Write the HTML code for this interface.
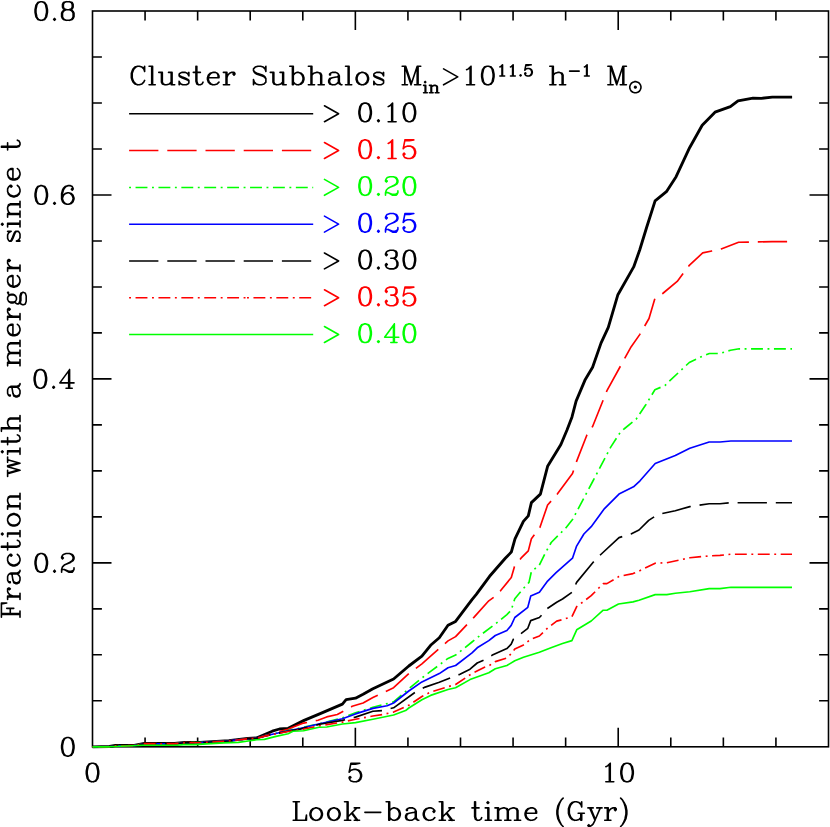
<!DOCTYPE html>
<html><head><meta charset="utf-8"><title>Fraction with a merger since t</title>
<style>html,body{margin:0;padding:0;background:#fff;font-family:"Liberation Sans",sans-serif}svg{display:block}</style>
</head><body>
<svg width="830" height="827" viewBox="0 0 830 827">
<rect width="830" height="827" fill="#fff"/>
<g fill="none" stroke="#000" stroke-width="1.6" stroke-linecap="square">
<rect x="92.5" y="11" width="736" height="735.8"/>
<path d="M145.07 746.8v-9.4M145.07 11v9.4M197.64 746.8v-9.4M197.64 11v9.4M250.21 746.8v-9.4M250.21 11v9.4M302.79 746.8v-9.4M302.79 11v9.4M355.36 746.8v-19M355.36 11v19M407.93 746.8v-9.4M407.93 11v9.4M460.5 746.8v-9.4M460.5 11v9.4M513.07 746.8v-9.4M513.07 11v9.4M565.64 746.8v-9.4M565.64 11v9.4M618.21 746.8v-19M618.21 11v19M670.79 746.8v-9.4M670.79 11v9.4M723.36 746.8v-9.4M723.36 11v9.4M775.93 746.8v-9.4M775.93 11v9.4M92.5 700.81h9.4M828.5 700.81h-9.4M92.5 654.82h9.4M828.5 654.82h-9.4M92.5 608.84h9.4M828.5 608.84h-9.4M92.5 562.85h19M828.5 562.85h-19M92.5 516.86h9.4M828.5 516.86h-9.4M92.5 470.87h9.4M828.5 470.87h-9.4M92.5 424.89h9.4M828.5 424.89h-9.4M92.5 378.9h19M828.5 378.9h-19M92.5 332.91h9.4M828.5 332.91h-9.4M92.5 286.93h9.4M828.5 286.93h-9.4M92.5 240.94h9.4M828.5 240.94h-9.4M92.5 194.95h19M828.5 194.95h-19M92.5 148.96h9.4M828.5 148.96h-9.4M92.5 102.98h9.4M828.5 102.98h-9.4M92.5 56.99h9.4M828.5 56.99h-9.4" stroke-linecap="butt"/>
</g>
<g fill="none" stroke-linejoin="round" stroke-linecap="butt">
<path d="M92.5 746.8L109.6 746.5L115.4 745.5L134.2 745.3L144.3 743.4L174.6 743.4L184.8 742.4L200 742.3L228.9 740.6L247.7 738.4L256.4 738L272.3 731.2L279.5 729L288.2 728.3L304.1 720.4L319.6 713.9L342.4 704.1L346.1 699.7L355.5 698.2L363.1 694.3L372.9 688.8L393.6 679L408.8 666L421.9 656.2L430.6 645.3L439.3 637.7L448 625.3L455.6 621.4L472 599.6L476.3 594.4L489.6 576.3L505.3 558.2L511.3 552.1L515 538.8L523.4 521.4L528.3 515.9L531.4 502.6L540.4 494.1L547.6 466.3L560.9 444.5L567 430L572 416.9L576.1 401.1L585.3 379.4L592.6 367.3L601 343.1L608.3 327.4L617.9 294.7L633.7 266.9L639.7 250L646.6 227.5L655.1 200.9L666.4 191.7L676.1 176.7L689.6 147.7L702.2 125.2L715 112.2L730.4 106.6L738 100.9L753 98.1L761.4 98.3L772.3 97.1L792.1 97.1" stroke="#000000" stroke-width="2.85"/>
<path d="M792 241.6L772 241.6L754 242L738.6 242.3L721.2 248.9L711.8 251L702.7 252.9L689 265.7L677.2 281.4L662.7 293.5L654.9 298.4L649 318.5L639.7 334.6L631.2 346.7L607.1 390.3L592.6 426.5L587 434.8L576.6 461.4L572.5 473.5L557.3 494.1L547.6 505L539.9 527.5L531.4 538.8L528.3 550.9L521 558.2L514.5 566.6L511.3 577.5L500.5 590.8L493.9 597.2L488.8 600.8L473.9 617.4L472 619.2L455.6 636.6L448 640.9L430.6 656.2L421.9 663.8L408.8 673.6L393.6 687.7L372.9 697.5L363.1 703L352.2 706.3L342.4 711.7L337.3 714.5L326.7 716.9L318 720.2L308.4 722.2L303.6 723.1L292 727.5L288.1 729.3L275 732.8L265 735.6L256.4 738.2L247.7 738.6L228.9 740.8L200 742.5L184.8 742.6L174.6 743.6L144.3 743.6L134.2 745.5L115.4 745.7L109.6 746.7L92.5 746.8" stroke="#ff0000" stroke-width="1.65" stroke-dasharray="29.3 8.9" stroke-dashoffset="33.3"/>
<path d="M792 348.8L739.3 348.8L730.5 350.2L720 353.5L709.4 353.5L701.3 356.7L689.3 362.5L669.9 380.6L665.1 385.4L654.9 389.8L645.8 404.8L636.1 419.3L624 429L620.2 432.4L610.7 447.1L592.4 482L572.5 519.5L565.8 527.9L551.2 542.5L545.2 553.3L539.2 565.4L531.4 571.5L529 582.4L522 590L514.8 598.7L511.2 610.2L506.9 614.6L495.3 624L480 635.5L472 642L455.6 655.1L448 658.4L430.6 671.4L421.9 678L408.8 688.8L393.6 701.9L372.9 707.3L355.5 712.8L342.4 717.8L319.6 723.7L300 728L288.1 730.5L275 733.6L265 735.9L256.4 738.3L247.7 738.7L228.9 740.9L200 742.6L184.8 742.7L174.6 743.7L144.3 743.7L134.2 745.6L115.4 745.8L109.6 746.8L92.5 746.8" stroke="#00ff00" stroke-width="1.65" stroke-dasharray="1.9 4.55 11.9 4.55" stroke-dashoffset="0.3"/>
<path d="M92.5 746.8L109.6 746.8L115.4 745.8L134.2 745.6L144.3 743.7L174.6 743.7L184.8 742.7L200 742.6L228.9 740.9L247.7 738.7L256.4 738.3L265 735.9L274.6 733.7L288.1 730.8L300 728.5L319.6 723.7L342.4 718.7L355.5 713.9L372.9 708.4L387.1 705.8L393.6 703L408.8 691L421.9 681.9L439.3 673.6L448 667.7L455.6 665.5L472 652.9L477.2 647.8L488.8 640.6L495.3 635.5L506.9 630.5L511.2 625.4L514.8 617.5L527.8 607.3L530.7 596.1L539.4 592.2L547.6 581.1L556.1 572.7L572.5 558.2L576.6 546.1L583.9 534L591.2 526.7L604.5 508.6L619 494.1L633.5 486.8L640 480.8L655.2 463.5L675.3 455.6L689.8 448.3L709.2 442L720 442L730.9 441L792 441" stroke="#0000ff" stroke-width="1.65"/>
<path d="M792 502.7L730.9 502.7L720 503.7L709.2 503.7L689.8 506.6L675.3 510.7L662 513.6L655.2 516.2L648.7 520.4L639 530L631 534L619 537.6L600.8 554.5L593.6 561.8L576.6 582.4L572.5 592L562.5 599L556.7 602.3L547.3 608.5L540.8 616L539.4 617.5L530.7 620.6L527.8 628.3L521.3 633.4L513.4 639.2L511.2 644.2L506.9 648.6L492.4 655.1L483.7 660.1L477.2 663L470 669.2L460 674.3L450.2 678L439.3 682.3L425.2 687.1L415.4 692.1L393.6 707.8L382.7 710.6L372.9 711.3L355.5 717.1L342.4 720.4L319.6 724.3L300 729.1L288.1 731.2L275 733.9L265 736L256.4 738.4L247.7 738.8L228.9 741L200 742.7L184.8 742.8L174.6 743.8L144.3 743.8L134.2 745.7L115.4 745.9L109.6 746.9L92.5 746.8" stroke="#000000" stroke-width="1.65" stroke-dasharray="29.3 8.9" stroke-dashoffset="13.1"/>
<path d="M792 554.2L730.9 554.2L720 555.4L709.2 555.9L689.8 557.8L666.8 562.7L655.2 563.2L639 571.1L633 573.6L619 576.5L606.9 583.6L603.2 583.6L591.2 595.7L576.7 606.6L571.9 616.7L562.5 619.6L556.7 621.1L548.1 627.6L539.4 636L530.7 639.2L523.5 644.9L514.8 649L511.2 653.6L506.9 658L495.3 661.6L488.8 665.9L484.5 667.3L471.4 673.9L455.6 684.5L448 686.7L430.6 692.1L421.9 696.5L408.8 705.2L393.6 712.1L382.7 714.5L372.9 716L355.5 719.3L342.4 722.1L319.6 725.8L300 729.8L288.1 731.5L275 734L265 736.1L256.4 738.4L247.7 738.8L228.9 741L200 742.7L184.8 742.8L174.6 743.8L144.3 743.8L134.2 745.7L115.4 745.9L109.6 746.9L92.5 746.8" stroke="#ff0000" stroke-width="1.65" stroke-dasharray="11.9 4.55 1.9 4.55" stroke-dashoffset="0.6"/>
<path d="M92.5 746.8L109.6 746.8L142.8 745.2L177.5 745.2L183.3 744.6L195 744.6L206.6 743.9L223.9 742.9L238.4 742.4L249.9 740.7L256.7 739.8L264.4 739.4L275 736.6L288.1 733.7L293 731.3L303.6 730.8L319 727.3L326.7 727L342.4 724L355.5 722.6L372.9 719.3L393.6 715L405.6 710.6L408.8 708L421.9 699.7L430.6 695.4L448 689.5L455.6 687.7L470 679.6L488.8 672.7L495.3 668.8L506.9 665.5L514.8 660.8L523.5 657.2L539.4 652.2L551 647.8L562.5 643.5L571.9 640.6L576.7 629.8L591.2 621L603.2 610.2L606.9 610.2L618.5 604L633 601.9L639 600.2L655.2 594.6L666.8 594.6L675.3 593.2L689.8 591.7L709.2 588.6L720 588.6L730.9 587.3L792 587.3" stroke="#00ff00" stroke-width="1.65"/>
<path d="M129.1 113.8L313.2 113.8" stroke="#000000" stroke-width="1.5"/>
<path d="M129.1 150.6L313.2 150.6" stroke="#ff0000" stroke-width="1.5" stroke-dasharray="29.3 8.9" stroke-dashoffset="0"/>
<path d="M129.1 187.4L313.2 187.4" stroke="#00ff00" stroke-width="1.5" stroke-dasharray="1.9 4.55 11.9 4.55" stroke-dashoffset="0"/>
<path d="M129.1 224.2L313.2 224.2" stroke="#0000ff" stroke-width="1.5"/>
<path d="M129.1 261L313.2 261" stroke="#000000" stroke-width="1.5" stroke-dasharray="29.3 8.9" stroke-dashoffset="0"/>
<path d="M129.1 297.8L247 297.8" stroke="#ff0000" stroke-width="1.5" stroke-dasharray="1.9 4.55 11.9 4.55" stroke-dashoffset="0"/>
<path d="M247 297.8L313.2 297.8" stroke="#ff0000" stroke-width="1.5" stroke-dasharray="1.9 4.55 11.9 4.55" stroke-dashoffset="0"/>
<path d="M129.1 334.6L313.2 334.6" stroke="#00ff00" stroke-width="1.5"/>
</g>
<g fill="none" stroke-width="1.6" stroke-linecap="round" stroke-linejoin="round">
<path d="M66.92 737.51L64.27 738.4L62.5 741.05L61.61 745.48L61.61 748.13L62.5 752.56L64.27 755.21L66.92 756.1L68.69 756.1L71.34 755.21L73.11 752.56L74 748.13L74 745.48L73.11 741.05L71.34 738.4L68.69 737.51L66.92 737.51M66.92 737.51L65.15 738.4L64.27 739.28L63.38 741.05L62.5 745.48L62.5 748.13L63.38 752.56L64.27 754.33L65.15 755.21L66.92 756.1M68.69 756.1L70.46 755.21L71.34 754.33L72.23 752.56L73.11 748.13L73.11 745.48L72.23 741.05L71.34 739.28L70.46 738.4L68.69 737.51" stroke="#000"/>
<path d="M40.37 553.56L37.72 554.45L35.95 557.1L35.06 561.53L35.06 564.18L35.95 568.61L37.72 571.26L40.37 572.15L42.14 572.15L44.8 571.26L46.56 568.61L47.45 564.18L47.45 561.53L46.56 557.1L44.8 554.45L42.14 553.56L40.37 553.56M40.37 553.56L38.6 554.45L37.72 555.33L36.83 557.1L35.95 561.53L35.95 564.18L36.83 568.61L37.72 570.38L38.6 571.26L40.37 572.15M42.14 572.15L43.91 571.26L44.8 570.38L45.68 568.61L46.56 564.18L46.56 561.53L45.68 557.1L44.8 555.33L43.91 554.45L42.14 553.56M54.53 570.38L53.64 571.26L54.53 572.15L55.41 571.26L54.53 570.38M62.49 557.1L63.38 557.99L62.49 558.87L61.61 557.99L61.61 557.1L62.49 555.33L63.38 554.45L66.03 553.56L69.58 553.56L72.23 554.45L73.11 555.33L74 557.1L74 558.87L73.11 560.64L70.46 562.41L66.03 564.18L64.27 565.07L62.49 566.84L61.61 569.49L61.61 572.15M69.58 553.56L71.34 554.45L72.23 555.33L73.11 557.1L73.11 558.87L72.23 560.64L69.58 562.41L66.03 564.18M61.61 570.38L62.49 569.49L64.27 569.49L68.69 571.26L71.34 571.26L73.11 570.38L74 569.49M64.27 569.49L68.69 572.15L72.23 572.15L73.11 571.26L74 569.49L74 567.72" stroke="#000"/>
<path d="M39.48 369.62L36.83 370.5L35.06 373.15L34.18 377.58L34.18 380.24L35.06 384.66L36.83 387.31L39.48 388.2L41.26 388.2L43.91 387.31L45.68 384.66L46.57 380.24L46.57 377.58L45.68 373.15L43.91 370.5L41.26 369.62L39.48 369.62M39.48 369.62L37.72 370.5L36.83 371.38L35.95 373.15L35.06 377.58L35.06 380.24L35.95 384.66L36.83 386.43L37.72 387.31L39.48 388.2M41.26 388.2L43.03 387.31L43.91 386.43L44.8 384.66L45.68 380.24L45.68 377.58L44.8 373.15L43.91 371.38L43.03 370.5L41.26 369.62M53.65 386.43L52.76 387.31L53.65 388.2L54.53 387.31L53.65 386.43M68.69 371.38L68.69 388.2M69.58 369.62L69.58 388.2M69.58 369.62L59.84 382.89L74 382.89M66.03 388.2L72.23 388.2" stroke="#000"/>
<path d="M40.37 185.67L37.72 186.55L35.95 189.21L35.06 193.63L35.06 196.29L35.95 200.71L37.72 203.37L40.37 204.25L42.14 204.25L44.8 203.37L46.56 200.71L47.45 196.29L47.45 193.63L46.56 189.21L44.8 186.55L42.14 185.67L40.37 185.67M40.37 185.67L38.6 186.55L37.72 187.44L36.83 189.21L35.95 193.63L35.95 196.29L36.83 200.71L37.72 202.48L38.6 203.37L40.37 204.25M42.14 204.25L43.91 203.37L44.8 202.48L45.68 200.71L46.56 196.29L46.56 193.63L45.68 189.21L44.8 187.44L43.91 186.55L42.14 185.67M54.53 202.48L53.64 203.37L54.53 204.25L55.41 203.37L54.53 202.48M72.23 188.32L71.34 189.21L72.23 190.09L73.11 189.21L73.11 188.32L72.23 186.55L70.46 185.67L67.81 185.67L65.15 186.55L63.38 188.32L62.49 190.09L61.61 193.63L61.61 198.94L62.49 201.6L64.27 203.37L66.92 204.25L68.69 204.25L71.34 203.37L73.11 201.6L74 198.94L74 198.06L73.11 195.4L71.34 193.63L68.69 192.75L67.81 192.75L65.15 193.63L63.38 195.4L62.49 198.06M67.81 185.67L66.03 186.55L64.27 188.32L63.38 190.09L62.49 193.63L62.49 198.94L63.38 201.6L65.15 203.37L66.92 204.25M68.69 204.25L70.46 203.37L72.23 201.6L73.11 198.94L73.11 198.06L72.23 195.4L70.46 193.63L68.69 192.75" stroke="#000"/>
<path d="M40.37 1.71L37.72 2.6L35.95 5.26L35.06 9.68L35.06 12.34L35.95 16.76L37.72 19.41L40.37 20.3L42.14 20.3L44.8 19.41L46.56 16.76L47.45 12.34L47.45 9.68L46.56 5.26L44.8 2.6L42.14 1.71L40.37 1.71M40.37 1.71L38.6 2.6L37.72 3.48L36.83 5.26L35.95 9.68L35.95 12.34L36.83 16.76L37.72 18.53L38.6 19.41L40.37 20.3M42.14 20.3L43.91 19.41L44.8 18.53L45.68 16.76L46.56 12.34L46.56 9.68L45.68 5.26L44.8 3.48L43.91 2.6L42.14 1.71M54.53 18.53L53.64 19.41L54.53 20.3L55.41 19.41L54.53 18.53M66.03 1.71L63.38 2.6L62.49 4.37L62.49 7.03L63.38 8.79L66.03 9.68L69.58 9.68L72.23 8.79L73.11 7.03L73.11 4.37L72.23 2.6L69.58 1.71L66.03 1.71M66.03 1.71L64.27 2.6L63.38 4.37L63.38 7.03L64.27 8.79L66.03 9.68M69.58 9.68L71.34 8.79L72.23 7.03L72.23 4.37L71.34 2.6L69.58 1.71M66.03 9.68L63.38 10.57L62.49 11.45L61.61 13.22L61.61 16.76L62.49 18.53L63.38 19.41L66.03 20.3L69.58 20.3L72.23 19.41L73.11 18.53L74 16.76L74 13.22L73.11 11.45L72.23 10.57L69.58 9.68M66.03 9.68L64.27 10.57L63.38 11.45L62.49 13.22L62.49 16.76L63.38 18.53L64.27 19.41L66.03 20.3M69.58 20.3L71.34 19.41L72.23 18.53L73.11 16.76L73.11 13.22L72.23 11.45L71.34 10.57L69.58 9.68" stroke="#000"/>
<path d="M91.61 763.21L88.96 764.1L87.19 766.75L86.31 771.18L86.31 773.83L87.19 778.26L88.96 780.91L91.61 781.8L93.39 781.8L96.04 780.91L97.81 778.26L98.69 773.83L98.69 771.18L97.81 766.75L96.04 764.1L93.39 763.21L91.61 763.21M91.61 763.21L89.84 764.1L88.96 764.98L88.08 766.75L87.19 771.18L87.19 773.83L88.08 778.26L88.96 780.03L89.84 780.91L91.61 781.8M93.39 781.8L95.16 780.91L96.04 780.03L96.92 778.26L97.81 773.83L97.81 771.18L96.92 766.75L96.04 764.98L95.16 764.1L93.39 763.21" stroke="#000"/>
<path d="M350.93 763.21L349.16 772.06M349.16 772.06L350.93 770.29L353.59 769.41L356.24 769.41L358.9 770.29L360.67 772.06L361.55 774.72L361.55 776.49L360.67 779.14L358.9 780.91L356.24 781.8L353.59 781.8L350.93 780.91L350.05 780.03L349.16 778.26L349.16 777.38L350.05 776.49L350.93 777.38L350.05 778.26M356.24 769.41L358.01 770.29L359.78 772.06L360.67 774.72L360.67 776.49L359.78 779.14L358.01 780.91L356.24 781.8M350.93 763.21L359.78 763.21M350.93 764.1L355.36 764.1L359.78 763.21" stroke="#000"/>
<path d="M605.82 766.75L607.59 765.87L610.25 763.21L610.25 781.8M609.36 764.1L609.36 781.8M605.82 781.8L613.79 781.8M626.18 763.21L623.52 764.1L621.75 766.75L620.87 771.18L620.87 773.83L621.75 778.26L623.52 780.91L626.18 781.8L627.95 781.8L630.6 780.91L632.37 778.26L633.26 773.83L633.26 771.18L632.37 766.75L630.6 764.1L627.95 763.21L626.18 763.21M626.18 763.21L624.41 764.1L623.52 764.98L622.64 766.75L621.75 771.18L621.75 773.83L622.64 778.26L623.52 780.03L624.41 780.91L626.18 781.8M627.95 781.8L629.72 780.91L630.6 780.03L631.49 778.26L632.37 773.83L632.37 771.18L631.49 766.75L630.6 764.98L629.72 764.1L627.95 763.21" stroke="#000"/>
<path d="M295.85 801.71L295.85 820.3M296.73 801.71L296.73 820.3M293.19 801.71L299.39 801.71M293.19 820.3L306.47 820.3L306.47 814.99L305.58 820.3M315.32 807.91L312.66 808.79L310.89 810.56L310.01 813.22L310.01 814.99L310.89 817.64L312.66 819.41L315.32 820.3L317.09 820.3L319.74 819.41L321.51 817.64L322.4 814.99L322.4 813.22L321.51 810.56L319.74 808.79L317.09 807.91L315.32 807.91M315.32 807.91L313.55 808.79L311.78 810.56L310.89 813.22L310.89 814.99L311.78 817.64L313.55 819.41L315.32 820.3M317.09 820.3L318.86 819.41L320.63 817.64L321.51 814.99L321.51 813.22L320.63 810.56L318.86 808.79L317.09 807.91M333.02 807.91L330.36 808.79L328.59 810.56L327.71 813.22L327.71 814.99L328.59 817.64L330.36 819.41L333.02 820.3L334.79 820.3L337.44 819.41L339.21 817.64L340.1 814.99L340.1 813.22L339.21 810.56L337.44 808.79L334.79 807.91L333.02 807.91M333.02 807.91L331.25 808.79L329.48 810.56L328.59 813.22L328.59 814.99L329.48 817.64L331.25 819.41L333.02 820.3M334.79 820.3L336.56 819.41L338.33 817.64L339.21 814.99L339.21 813.22L338.33 810.56L336.56 808.79L334.79 807.91M347.18 801.71L347.18 820.3M348.06 801.71L348.06 820.3M356.91 807.91L348.06 816.76M352.49 813.22L357.8 820.3M351.6 813.22L356.91 820.3M344.52 801.71L348.06 801.71M354.26 807.91L359.57 807.91M344.52 820.3L350.72 820.3M354.26 820.3L359.57 820.3M364.88 812.33L380.81 812.33M388.77 801.71L388.77 820.3M389.66 801.71L389.66 820.3M389.66 810.56L391.43 808.79L393.2 807.91L394.97 807.91L397.62 808.79L399.39 810.56L400.28 813.22L400.28 814.99L399.39 817.64L397.62 819.41L394.97 820.3L393.2 820.3L391.43 819.41L389.66 817.64M394.97 807.91L396.74 808.79L398.51 810.56L399.39 813.22L399.39 814.99L398.51 817.64L396.74 819.41L394.97 820.3M386.12 801.71L389.66 801.71M407.36 809.68L407.36 810.56L406.47 810.56L406.47 809.68L407.36 808.79L409.13 807.91L412.67 807.91L414.44 808.79L415.32 809.68L416.21 811.45L416.21 817.64L417.09 819.41L417.98 820.3M415.32 809.68L415.32 817.64L416.21 819.41L417.98 820.3L418.86 820.3M415.32 811.45L414.44 812.33L409.13 813.22L406.47 814.1L405.59 815.88L405.59 817.64L406.47 819.41L409.13 820.3L411.78 820.3L413.55 819.41L415.32 817.64M409.13 813.22L407.36 814.1L406.47 815.88L406.47 817.64L407.36 819.41L409.13 820.3M433.91 810.56L433.02 811.45L433.91 812.33L434.79 811.45L434.79 810.56L433.02 808.79L431.25 807.91L428.6 807.91L425.94 808.79L424.17 810.56L423.29 813.22L423.29 814.99L424.17 817.64L425.94 819.41L428.6 820.3L430.37 820.3L433.02 819.41L434.79 817.64M428.6 807.91L426.83 808.79L425.06 810.56L424.17 813.22L424.17 814.99L425.06 817.64L426.83 819.41L428.6 820.3M441.87 801.71L441.87 820.3M442.76 801.71L442.76 820.3M451.61 807.91L442.76 816.76M447.18 813.22L452.49 820.3M446.3 813.22L451.61 820.3M439.22 801.71L442.76 801.71M448.95 807.91L454.26 807.91M439.22 820.3L445.41 820.3M448.95 820.3L454.26 820.3M474.62 801.71L474.62 816.76L475.5 819.41L477.27 820.3L479.04 820.3L480.81 819.41L481.7 817.64M475.5 801.71L475.5 816.76L476.39 819.41L477.27 820.3M471.96 807.91L479.04 807.91M487.89 801.71L487.01 802.6L487.89 803.48L488.78 802.6L487.89 801.71M487.89 807.91L487.89 820.3M488.78 807.91L488.78 820.3M485.24 807.91L488.78 807.91M485.24 820.3L491.43 820.3M497.63 807.91L497.63 820.3M498.51 807.91L498.51 820.3M498.51 810.56L500.28 808.79L502.94 807.91L504.71 807.91L507.36 808.79L508.25 810.56L508.25 820.3M504.71 807.91L506.48 808.79L507.36 810.56L507.36 820.3M508.25 810.56L510.02 808.79L512.67 807.91L514.44 807.91L517.1 808.79L517.98 810.56L517.98 820.3M514.44 807.91L516.21 808.79L517.1 810.56L517.1 820.3M494.97 807.91L498.51 807.91M494.97 820.3L501.17 820.3M504.71 820.3L510.9 820.3M514.44 820.3L520.64 820.3M525.95 813.22L536.57 813.22L536.57 811.45L535.68 809.68L534.8 808.79L533.03 807.91L530.37 807.91L527.72 808.79L525.95 810.56L525.06 813.22L525.06 814.99L525.95 817.64L527.72 819.41L530.37 820.3L532.14 820.3L534.8 819.41L536.57 817.64M535.68 813.22L535.68 810.56L534.8 808.79M530.37 807.91L528.6 808.79L526.83 810.56L525.95 813.22L525.95 814.99L526.83 817.64L528.6 819.41L530.37 820.3M563.12 798.17L561.35 799.94L559.58 802.6L557.81 806.14L556.92 810.56L556.92 814.1L557.81 818.53L559.58 822.07L561.35 824.72L563.12 826.5M561.35 799.94L559.58 803.48L558.69 806.14L557.81 810.56L557.81 814.1L558.69 818.53L559.58 821.18L561.35 824.72M580.82 804.37L581.7 807.02L581.7 801.71L580.82 804.37L579.05 802.6L576.39 801.71L574.62 801.71L571.97 802.6L570.2 804.37L569.31 806.14L568.43 808.79L568.43 813.22L569.31 815.88L570.2 817.64L571.97 819.41L574.62 820.3L576.39 820.3L579.05 819.41L580.82 817.64M574.62 801.71L572.85 802.6L571.08 804.37L570.2 806.14L569.31 808.79L569.31 813.22L570.2 815.88L571.08 817.64L572.85 819.41L574.62 820.3M580.82 813.22L580.82 820.3M581.7 813.22L581.7 820.3M578.16 813.22L584.36 813.22M589.67 807.91L594.98 820.3M590.55 807.91L594.98 818.53M600.29 807.91L594.98 820.3L593.21 823.84L591.44 825.61L589.67 826.5L588.78 826.5L587.9 825.61L588.78 824.72L589.67 825.61M587.9 807.91L593.21 807.91M596.75 807.91L602.06 807.91M607.37 807.91L607.37 820.3M608.25 807.91L608.25 820.3M608.25 813.22L609.14 810.56L610.91 808.79L612.68 807.91L615.33 807.91L616.22 808.79L616.22 809.68L615.33 810.56L614.45 809.68L615.33 808.79M604.71 807.91L608.25 807.91M604.71 820.3L610.91 820.3M620.64 798.17L622.41 799.94L624.18 802.6L625.95 806.14L626.84 810.56L626.84 814.1L625.95 818.53L624.18 822.07L622.41 824.72L620.64 826.5M622.41 799.94L624.18 803.48L625.07 806.14L625.95 810.56L625.95 814.1L625.07 818.53L624.18 821.18L622.41 824.72" stroke="#000"/>
<path d="M1.41 614.55L20 614.55M1.41 613.67L20 613.67M6.72 608.36L13.8 608.36M1.41 617.21L1.41 603.05L6.72 603.05L1.41 603.93M10.27 613.67L10.27 608.36M20 617.21L20 611.01M7.61 596.85L20 596.85M7.61 595.97L20 595.97M12.92 595.97L10.27 595.08L8.49 593.31L7.61 591.54L7.61 588.89L8.49 588L9.38 588L10.27 588.89L9.38 589.77L8.49 588.89M7.61 599.51L7.61 595.97M20 599.51L20 593.31M9.38 581.81L10.27 581.81L10.27 582.69L9.38 582.69L8.49 581.81L7.61 580.04L7.61 576.5L8.49 574.73L9.38 573.84L11.15 572.96L17.34 572.96L19.11 572.07L20 571.19M9.38 573.84L17.34 573.84L19.11 572.96L20 571.19L20 570.3M11.15 573.84L12.04 574.73L12.92 580.04L13.8 582.69L15.57 583.58L17.34 583.58L19.11 582.69L20 580.04L20 577.38L19.11 575.61L17.34 573.84M12.92 580.04L13.8 581.81L15.57 582.69L17.34 582.69L19.11 581.81L20 580.04M10.27 555.26L11.15 556.14L12.04 555.26L11.15 554.37L10.27 554.37L8.49 556.14L7.61 557.91L7.61 560.57L8.49 563.22L10.27 564.99L12.92 565.88L14.69 565.88L17.34 564.99L19.11 563.22L20 560.57L20 558.8L19.11 556.14L17.34 554.37M7.61 560.57L8.49 562.34L10.27 564.11L12.92 564.99L14.69 564.99L17.34 564.11L19.11 562.34L20 560.57M1.41 547.29L16.46 547.29L19.11 546.41L20 544.64L20 542.87L19.11 541.1L17.34 540.21M1.41 546.41L16.46 546.41L19.11 545.52L20 544.64M7.61 549.95L7.61 542.87M1.41 534.02L2.3 534.9L3.18 534.02L2.3 533.13L1.41 534.02M7.61 534.02L20 534.02M7.61 533.13L20 533.13M7.61 536.67L7.61 533.13M20 536.67L20 530.48M7.61 520.74L8.49 523.4L10.27 525.17L12.92 526.05L14.69 526.05L17.34 525.17L19.11 523.4L20 520.74L20 518.97L19.11 516.32L17.34 514.55L14.69 513.66L12.92 513.66L10.27 514.55L8.49 516.32L7.61 518.97L7.61 520.74M7.61 520.74L8.49 522.51L10.27 524.28L12.92 525.17L14.69 525.17L17.34 524.28L19.11 522.51L20 520.74M20 518.97L19.11 517.2L17.34 515.43L14.69 514.55L12.92 514.55L10.27 515.43L8.49 517.2L7.61 518.97M7.61 506.58L20 506.58M7.61 505.7L20 505.7M10.27 505.7L8.49 503.93L7.61 501.27L7.61 499.5L8.49 496.85L10.27 495.96L20 495.96M7.61 499.5L8.49 497.73L10.27 496.85L20 496.85M7.61 509.24L7.61 505.7M20 509.24L20 503.04M20 499.5L20 493.31M7.61 473.84L20 470.3M7.61 472.95L17.34 470.3M7.61 466.76L20 470.3M7.61 466.76L20 463.22M7.61 465.87L17.34 463.22M7.61 459.68L20 463.22M7.61 476.49L7.61 470.3M7.61 462.33L7.61 457.02M1.41 451.71L2.3 452.6L3.18 451.71L2.3 450.83L1.41 451.71M7.61 451.71L20 451.71M7.61 450.83L20 450.83M7.61 454.37L7.61 450.83M20 454.37L20 448.17M1.41 441.98L16.46 441.98L19.11 441.09L20 439.32L20 437.55L19.11 435.78L17.34 434.9M1.41 441.09L16.46 441.09L19.11 440.21L20 439.32M7.61 444.63L7.61 437.55M1.41 428.7L20 428.7M1.41 427.82L20 427.82M10.27 427.82L8.49 426.05L7.61 423.39L7.61 421.62L8.49 418.97L10.27 418.08L20 418.08M7.61 421.62L8.49 419.85L10.27 418.97L20 418.97M1.41 431.36L1.41 427.82M20 431.36L20 425.16M20 421.62L20 415.43M9.38 395.07L10.27 395.07L10.27 395.96L9.38 395.96L8.49 395.07L7.61 393.3L7.61 389.76L8.49 387.99L9.38 387.11L11.15 386.22L17.34 386.22L19.11 385.34L20 384.45M9.38 387.11L17.34 387.11L19.11 386.22L20 384.45L20 383.57M11.15 387.11L12.04 387.99L12.92 393.3L13.8 395.96L15.57 396.84L17.34 396.84L19.11 395.96L20 393.3L20 390.65L19.11 388.88L17.34 387.11M12.92 393.3L13.8 395.07L15.57 395.96L17.34 395.96L19.11 395.07L20 393.3M7.61 363.21L20 363.21M7.61 362.33L20 362.33M10.27 362.33L8.49 360.56L7.61 357.9L7.61 356.13L8.49 353.48L10.27 352.59L20 352.59M7.61 356.13L8.49 354.36L10.27 353.48L20 353.48M10.27 352.59L8.49 350.82L7.61 348.17L7.61 346.4L8.49 343.74L10.27 342.86L20 342.86M7.61 346.4L8.49 344.63L10.27 343.74L20 343.74M7.61 365.87L7.61 362.33M20 365.87L20 359.67M20 356.13L20 349.94M20 346.4L20 340.2M12.92 334.89L12.92 324.27L11.15 324.27L9.38 325.16L8.49 326.04L7.61 327.81L7.61 330.47L8.49 333.12L10.27 334.89L12.92 335.78L14.69 335.78L17.34 334.89L19.11 333.12L20 330.47L20 328.7L19.11 326.04L17.34 324.27M12.92 325.16L10.27 325.16L8.49 326.04M7.61 330.47L8.49 332.24L10.27 334.01L12.92 334.89L14.69 334.89L17.34 334.01L19.11 332.24L20 330.47M7.61 317.19L20 317.19M7.61 316.31L20 316.31M12.92 316.31L10.27 315.42L8.49 313.65L7.61 311.88L7.61 309.23L8.49 308.34L9.38 308.34L10.27 309.23L9.38 310.11L8.49 309.23M7.61 319.85L7.61 316.31M20 319.85L20 313.65M7.61 299.49L8.49 301.26L9.38 302.15L11.15 303.03L12.92 303.03L14.69 302.15L15.57 301.26L16.46 299.49L16.46 297.72L15.57 295.95L14.69 295.07L12.92 294.18L11.15 294.18L9.38 295.07L8.49 295.95L7.61 297.72L7.61 299.49M8.49 301.26L10.27 302.15L13.8 302.15L15.57 301.26M15.57 295.95L13.8 295.07L10.27 295.07L8.49 295.95M9.38 295.07L8.49 294.18L7.61 292.41L8.49 292.41L8.49 294.18M14.69 302.15L15.57 303.03L17.34 303.92L18.23 303.92L20 303.03L20.89 300.38L20.89 295.95L21.77 293.3L22.66 292.41M18.23 303.92L19.11 303.03L20 300.38L20 295.95L20.89 293.3L22.66 292.41L23.54 292.41L25.31 293.3L26.2 295.95L26.2 301.26L25.31 303.92L23.54 304.8L22.66 304.8L20.89 303.92L20 301.26M12.92 286.22L12.92 275.6L11.15 275.6L9.38 276.48L8.49 277.37L7.61 279.14L7.61 281.79L8.49 284.45L10.27 286.22L12.92 287.1L14.69 287.1L17.34 286.22L19.11 284.45L20 281.79L20 280.02L19.11 277.37L17.34 275.6M12.92 276.48L10.27 276.48L8.49 277.37M7.61 281.79L8.49 283.56L10.27 285.33L12.92 286.22L14.69 286.22L17.34 285.33L19.11 283.56L20 281.79M7.61 268.52L20 268.52M7.61 267.63L20 267.63M12.92 267.63L10.27 266.75L8.49 264.98L7.61 263.21L7.61 260.55L8.49 259.67L9.38 259.67L10.27 260.55L9.38 261.44L8.49 260.55M7.61 271.17L7.61 267.63M20 271.17L20 264.98M9.38 232.23L7.61 231.35L11.15 231.35L9.38 232.23L8.49 233.12L7.61 234.89L7.61 238.43L8.49 240.2L9.38 241.08L11.15 241.08L12.04 240.2L12.92 238.43L14.69 234L15.57 232.23L16.46 231.35M10.27 241.08L11.15 240.2L12.04 238.43L13.8 234L14.69 232.23L15.57 231.35L18.23 231.35L19.11 232.23L20 234L20 237.54L19.11 239.31L18.23 240.2L16.46 241.08L20 241.08L18.23 240.2M1.41 224.27L2.3 225.15L3.18 224.27L2.3 223.38L1.41 224.27M7.61 224.27L20 224.27M7.61 223.38L20 223.38M7.61 226.92L7.61 223.38M20 226.92L20 220.73M7.61 214.53L20 214.53M7.61 213.65L20 213.65M10.27 213.65L8.49 211.88L7.61 209.22L7.61 207.45L8.49 204.8L10.27 203.91L20 203.91M7.61 207.45L8.49 205.68L10.27 204.8L20 204.8M7.61 217.19L7.61 213.65M20 217.19L20 210.99M20 207.45L20 201.26M10.27 186.21L11.15 187.1L12.04 186.21L11.15 185.33L10.27 185.33L8.49 187.1L7.61 188.87L7.61 191.52L8.49 194.18L10.27 195.95L12.92 196.83L14.69 196.83L17.34 195.95L19.11 194.18L20 191.52L20 189.75L19.11 187.1L17.34 185.33M7.61 191.52L8.49 193.29L10.27 195.06L12.92 195.95L14.69 195.95L17.34 195.06L19.11 193.29L20 191.52M12.92 179.13L12.92 168.51L11.15 168.51L9.38 169.4L8.49 170.28L7.61 172.05L7.61 174.71L8.49 177.36L10.27 179.13L12.92 180.02L14.69 180.02L17.34 179.13L19.11 177.36L20 174.71L20 172.94L19.11 170.28L17.34 168.51M12.92 169.4L10.27 169.4L8.49 170.28M7.61 174.71L8.49 176.48L10.27 178.25L12.92 179.13L14.69 179.13L17.34 178.25L19.11 176.48L20 174.71M1.41 147.27L16.46 147.27L19.11 146.39L20 144.62L20 142.85L19.11 141.08L17.34 140.19M1.41 146.39L16.46 146.39L19.11 145.5L20 144.62M7.61 149.93L7.61 142.85" stroke="#000"/>
<path d="M143.74 68.87L144.63 71.52L144.63 66.22L143.74 68.87L141.97 67.1L139.32 66.22L137.55 66.22L134.89 67.1L133.12 68.87L132.24 70.64L131.35 73.3L131.35 77.72L132.24 80.38L133.12 82.14L134.89 83.91L137.55 84.8L139.32 84.8L141.97 83.91L143.74 82.14L144.63 80.38M137.55 66.22L135.78 67.1L134.01 68.87L133.12 70.64L132.24 73.3L132.24 77.72L133.12 80.38L134.01 82.14L135.78 83.91L137.55 84.8M151.71 66.22L151.71 84.8M152.59 66.22L152.59 84.8M149.05 66.22L152.59 66.22M149.05 84.8L155.25 84.8M161.44 72.41L161.44 82.14L162.33 83.91L164.98 84.8L166.75 84.8L169.41 83.91L171.18 82.14M162.33 72.41L162.33 82.14L163.21 83.91L164.98 84.8M171.18 72.41L171.18 84.8M172.06 72.41L172.06 84.8M158.79 72.41L162.33 72.41M168.52 72.41L172.06 72.41M171.18 84.8L174.72 84.8M188 74.18L188.88 72.41L188.88 75.95L188 74.18L187.11 73.3L185.34 72.41L181.8 72.41L180.03 73.3L179.14 74.18L179.14 75.95L180.03 76.83L181.8 77.72L186.22 79.49L188 80.38L188.88 81.26M179.14 75.06L180.03 75.95L181.8 76.83L186.22 78.6L188 79.49L188.88 80.38L188.88 83.03L188 83.91L186.22 84.8L182.69 84.8L180.91 83.91L180.03 83.03L179.14 81.26L179.14 84.8L180.03 83.03M195.96 66.22L195.96 81.26L196.84 83.91L198.62 84.8L200.38 84.8L202.15 83.91L203.04 82.14M196.84 66.22L196.84 81.26L197.73 83.91L198.62 84.8M193.31 72.41L200.38 72.41M208.35 77.72L218.97 77.72L218.97 75.95L218.08 74.18L217.2 73.3L215.43 72.41L212.77 72.41L210.12 73.3L208.35 75.06L207.46 77.72L207.46 79.49L208.35 82.14L210.12 83.91L212.77 84.8L214.54 84.8L217.2 83.91L218.97 82.14M218.08 77.72L218.08 75.06L217.2 73.3M212.77 72.41L211 73.3L209.23 75.06L208.35 77.72L208.35 79.49L209.23 82.14L211 83.91L212.77 84.8M226.05 72.41L226.05 84.8M226.94 72.41L226.94 84.8M226.94 77.72L227.82 75.06L229.59 73.3L231.36 72.41L234.01 72.41L234.9 73.3L234.9 74.18L234.01 75.06L233.13 74.18L234.01 73.3M223.39 72.41L226.94 72.41M223.39 84.8L229.59 84.8M264.99 68.87L265.88 66.22L265.88 71.52L264.99 68.87L263.22 67.1L260.56 66.22L257.91 66.22L255.25 67.1L253.48 68.87L253.48 70.64L254.37 72.41L255.25 73.3L257.02 74.18L262.33 75.95L264.11 76.83L265.88 78.6M253.48 70.64L255.25 72.41L257.02 73.3L262.33 75.06L264.11 75.95L264.99 76.83L265.88 78.6L265.88 82.14L264.11 83.91L261.45 84.8L258.79 84.8L256.14 83.91L254.37 82.14L253.48 79.49L253.48 84.8L254.37 82.14M272.95 72.41L272.95 82.14L273.84 83.91L276.5 84.8L278.26 84.8L280.92 83.91L282.69 82.14M273.84 72.41L273.84 82.14L274.72 83.91L276.5 84.8M282.69 72.41L282.69 84.8M283.57 72.41L283.57 84.8M270.3 72.41L273.84 72.41M280.03 72.41L283.57 72.41M282.69 84.8L286.23 84.8M292.42 66.22L292.42 84.8M293.31 66.22L293.31 84.8M293.31 75.06L295.08 73.3L296.85 72.41L298.62 72.41L301.27 73.3L303.04 75.06L303.93 77.72L303.93 79.49L303.04 82.14L301.27 83.91L298.62 84.8L296.85 84.8L295.08 83.91L293.31 82.14M298.62 72.41L300.39 73.3L302.16 75.06L303.04 77.72L303.04 79.49L302.16 82.14L300.39 83.91L298.62 84.8M289.77 66.22L293.31 66.22M311.01 66.22L311.01 84.8M311.89 66.22L311.89 84.8M311.89 75.06L313.66 73.3L316.32 72.41L318.09 72.41L320.75 73.3L321.63 75.06L321.63 84.8M318.09 72.41L319.86 73.3L320.75 75.06L320.75 84.8M308.36 66.22L311.89 66.22M308.36 84.8L314.55 84.8M318.09 84.8L324.28 84.8M330.48 74.18L330.48 75.06L329.59 75.06L329.59 74.18L330.48 73.3L332.25 72.41L335.79 72.41L337.56 73.3L338.44 74.18L339.33 75.95L339.33 82.14L340.21 83.91L341.1 84.8M338.44 74.18L338.44 82.14L339.33 83.91L341.1 84.8L341.99 84.8M338.44 75.95L337.56 76.83L332.25 77.72L329.59 78.6L328.71 80.38L328.71 82.14L329.59 83.91L332.25 84.8L334.9 84.8L336.67 83.91L338.44 82.14M332.25 77.72L330.48 78.6L329.59 80.38L329.59 82.14L330.48 83.91L332.25 84.8M348.18 66.22L348.18 84.8M349.06 66.22L349.06 84.8M345.52 66.22L349.06 66.22M345.52 84.8L351.72 84.8M361.45 72.41L358.8 73.3L357.03 75.06L356.14 77.72L356.14 79.49L357.03 82.14L358.8 83.91L361.45 84.8L363.22 84.8L365.88 83.91L367.65 82.14L368.53 79.49L368.53 77.72L367.65 75.06L365.88 73.3L363.22 72.41L361.45 72.41M361.45 72.41L359.68 73.3L357.91 75.06L357.03 77.72L357.03 79.49L357.91 82.14L359.68 83.91L361.45 84.8M363.22 84.8L364.99 83.91L366.76 82.14L367.65 79.49L367.65 77.72L366.76 75.06L364.99 73.3L363.22 72.41M382.69 74.18L383.58 72.41L383.58 75.95L382.69 74.18L381.81 73.3L380.04 72.41L376.5 72.41L374.73 73.3L373.84 74.18L373.84 75.95L374.73 76.83L376.5 77.72L380.92 79.49L382.69 80.38L383.58 81.26M373.84 75.06L374.73 75.95L376.5 76.83L380.92 78.6L382.69 79.49L383.58 80.38L383.58 83.03L382.69 83.91L380.92 84.8L377.38 84.8L375.61 83.91L374.73 83.03L373.84 81.26L373.84 84.8L374.73 83.03M404.82 66.22L404.82 84.8M405.7 66.22L411.01 82.14M404.82 66.22L411.01 84.8M417.21 66.22L411.01 84.8M417.21 66.22L417.21 84.8M418.09 66.22L418.09 84.8M402.16 66.22L405.7 66.22M417.21 66.22L420.75 66.22M402.16 84.8L407.47 84.8M414.56 84.8L420.75 84.8M425.17 81.65L424.64 82.18L425.17 82.71L425.71 82.18L425.17 81.65M425.17 85.37L425.17 92.8M425.71 85.37L425.71 92.8M423.58 85.37L425.71 85.37M423.58 92.8L427.3 92.8M431.02 85.37L431.02 92.8M431.55 85.37L431.55 92.8M431.55 86.96L432.61 85.9L434.2 85.37L435.26 85.37L436.86 85.9L437.39 86.96L437.39 92.8M435.26 85.37L436.33 85.9L436.86 86.96L436.86 92.8M429.42 85.37L431.55 85.37M429.42 92.8L433.14 92.8M435.26 92.8L438.98 92.8M443.58 68.87L457.74 76.83L443.58 84.8M466.59 69.75L468.36 68.87L471.02 66.22L471.02 84.8M470.13 67.1L470.13 84.8M466.59 84.8L474.56 84.8M486.95 66.22L484.29 67.1L482.52 69.75L481.64 74.18L481.64 76.83L482.52 81.26L484.29 83.91L486.95 84.8L488.72 84.8L491.37 83.91L493.14 81.26L494.03 76.83L494.03 74.18L493.14 69.75L491.37 67.1L488.72 66.22L486.95 66.22M486.95 66.22L485.18 67.1L484.29 67.98L483.41 69.75L482.52 74.18L482.52 76.83L483.41 81.26L484.29 83.03L485.18 83.91L486.95 84.8M488.72 84.8L490.49 83.91L491.37 83.03L492.26 81.26L493.14 76.83L493.14 74.18L492.26 69.75L491.37 67.98L490.49 67.1L488.72 66.22M499.87 66.92L500.93 66.39L502.52 64.8L502.52 75.95M501.99 65.33L501.99 75.95M499.87 75.95L504.65 75.95M510.49 66.92L511.55 66.39L513.14 64.8L513.14 75.95M512.61 65.33L512.61 75.95M510.49 75.95L515.27 75.95M520.58 74.89L520.05 75.42L520.58 75.95L521.11 75.42L520.58 74.89M525.89 64.8L524.83 70.11M524.83 70.11L525.89 69.05L527.48 68.52L529.07 68.52L530.67 69.05L531.73 70.11L532.26 71.7L532.26 72.76L531.73 74.36L530.67 75.42L529.07 75.95L527.48 75.95L525.89 75.42L525.36 74.89L524.83 73.83L524.83 73.3L525.36 72.76L525.89 73.3L525.36 73.83M529.07 68.52L530.14 69.05L531.2 70.11L531.73 71.7L531.73 72.76L531.2 74.36L530.14 75.42L529.07 75.95M525.89 64.8L531.2 64.8M525.89 65.33L528.54 65.33L531.2 64.8M552.44 66.22L552.44 84.8M553.32 66.22L553.32 84.8M553.32 75.06L555.09 73.3L557.75 72.41L559.52 72.41L562.17 73.3L563.06 75.06L563.06 84.8M559.52 72.41L561.29 73.3L562.17 75.06L562.17 84.8M549.78 66.22L553.32 66.22M549.78 84.8L555.98 84.8M559.52 84.8L565.71 84.8M569.61 71.17L579.16 71.17M584.47 66.92L585.54 66.39L587.13 64.8L587.13 75.95M586.6 65.33L586.6 75.95M584.47 75.95L589.25 75.95M610.49 66.22L610.49 84.8M611.38 66.22L616.69 82.14M610.49 66.22L616.69 84.8M622.88 66.22L616.69 84.8M622.88 66.22L622.88 84.8M623.77 66.22L623.77 84.8M607.84 66.22L611.38 66.22M622.88 66.22L626.42 66.22M607.84 84.8L613.15 84.8M620.23 84.8L626.42 84.8M634.57 81.65L632.97 82.18L631.38 83.24L630.32 84.83L629.79 86.43L629.79 88.02L630.32 89.61L631.38 91.21L632.97 92.27L634.57 92.8L636.16 92.8L637.75 92.27L639.35 91.21L640.41 89.61L640.94 88.02L640.94 86.43L640.41 84.83L639.35 83.24L637.75 82.18L636.16 81.65L634.57 81.65M635.1 86.43L634.57 86.96L634.57 87.49L635.1 88.02L635.63 88.02L636.16 87.49L636.16 86.96L635.63 86.43L635.1 86.43M635.1 86.96L635.1 87.49L635.63 87.49L635.63 86.96L635.1 86.96" stroke="#000"/>
<path d="M324.44 105.77L338.6 113.73L324.44 121.7M364.26 103.12L361.61 104L359.84 106.66L358.95 111.08L358.95 113.73L359.84 118.16L361.61 120.81L364.26 121.7L366.03 121.7L368.69 120.81L370.46 118.16L371.34 113.73L371.34 111.08L370.46 106.66L368.69 104L366.03 103.12L364.26 103.12M364.26 103.12L362.5 104L361.61 104.89L360.72 106.66L359.84 111.08L359.84 113.73L360.72 118.16L361.61 119.93L362.5 120.81L364.26 121.7M366.03 121.7L367.81 120.81L368.69 119.93L369.57 118.16L370.46 113.73L370.46 111.08L369.57 106.66L368.69 104.89L367.81 104L366.03 103.12M378.42 119.93L377.54 120.81L378.42 121.7L379.31 120.81L378.42 119.93M388.16 106.66L389.93 105.77L392.58 103.12L392.58 121.7M391.7 104L391.7 121.7M388.16 121.7L396.12 121.7M408.51 103.12L405.86 104L404.09 106.66L403.2 111.08L403.2 113.73L404.09 118.16L405.86 120.81L408.51 121.7L410.28 121.7L412.94 120.81L414.71 118.16L415.59 113.73L415.59 111.08L414.71 106.66L412.94 104L410.28 103.12L408.51 103.12M408.51 103.12L406.75 104L405.86 104.89L404.97 106.66L404.09 111.08L404.09 113.73L404.97 118.16L405.86 119.93L406.75 120.81L408.51 121.7M410.28 121.7L412.05 120.81L412.94 119.93L413.82 118.16L414.71 113.73L414.71 111.08L413.82 106.66L412.94 104.89L412.05 104L410.28 103.12" stroke="#000000"/>
<path d="M324.44 142.57L338.6 150.53L324.44 158.5M364.26 139.91L361.61 140.8L359.84 143.46L358.95 147.88L358.95 150.53L359.84 154.96L361.61 157.62L364.26 158.5L366.03 158.5L368.69 157.62L370.46 154.96L371.34 150.53L371.34 147.88L370.46 143.46L368.69 140.8L366.03 139.91L364.26 139.91M364.26 139.91L362.5 140.8L361.61 141.69L360.72 143.46L359.84 147.88L359.84 150.53L360.72 154.96L361.61 156.73L362.5 157.62L364.26 158.5M366.03 158.5L367.81 157.62L368.69 156.73L369.57 154.96L370.46 150.53L370.46 147.88L369.57 143.46L368.69 141.69L367.81 140.8L366.03 139.91M378.42 156.73L377.54 157.62L378.42 158.5L379.31 157.62L378.42 156.73M388.16 143.46L389.93 142.57L392.58 139.91L392.58 158.5M391.7 140.8L391.7 158.5M388.16 158.5L396.12 158.5M404.97 139.91L403.2 148.76M403.2 148.76L404.97 147L407.63 146.11L410.28 146.11L412.94 147L414.71 148.76L415.59 151.42L415.59 153.19L414.71 155.84L412.94 157.62L410.28 158.5L407.63 158.5L404.97 157.62L404.09 156.73L403.2 154.96L403.2 154.07L404.09 153.19L404.97 154.07L404.09 154.96M410.28 146.11L412.05 147L413.82 148.76L414.71 151.42L414.71 153.19L413.82 155.84L412.05 157.62L410.28 158.5M404.97 139.91L413.82 139.91M404.97 140.8L409.4 140.8L413.82 139.91" stroke="#ff0000"/>
<path d="M324.44 179.37L338.6 187.34L324.44 195.3M364.26 176.72L361.61 177.6L359.84 180.26L358.95 184.68L358.95 187.34L359.84 191.76L361.61 194.42L364.26 195.3L366.03 195.3L368.69 194.42L370.46 191.76L371.34 187.34L371.34 184.68L370.46 180.26L368.69 177.6L366.03 176.72L364.26 176.72M364.26 176.72L362.5 177.6L361.61 178.49L360.72 180.26L359.84 184.68L359.84 187.34L360.72 191.76L361.61 193.53L362.5 194.42L364.26 195.3M366.03 195.3L367.81 194.42L368.69 193.53L369.57 191.76L370.46 187.34L370.46 184.68L369.57 180.26L368.69 178.49L367.81 177.6L366.03 176.72M378.42 193.53L377.54 194.42L378.42 195.3L379.31 194.42L378.42 193.53M386.39 180.26L387.27 181.14L386.39 182.03L385.5 181.14L385.5 180.26L386.39 178.49L387.27 177.6L389.93 176.72L393.47 176.72L396.12 177.6L397.01 178.49L397.89 180.26L397.89 182.03L397.01 183.8L394.36 185.56L389.93 187.34L388.16 188.22L386.39 189.99L385.5 192.65L385.5 195.3M393.47 176.72L395.24 177.6L396.12 178.49L397.01 180.26L397.01 182.03L396.12 183.8L393.47 185.56L389.93 187.34M385.5 193.53L386.39 192.65L388.16 192.65L392.58 194.42L395.24 194.42L397.01 193.53L397.89 192.65M388.16 192.65L392.58 195.3L396.12 195.3L397.01 194.42L397.89 192.65L397.89 190.88M408.51 176.72L405.86 177.6L404.09 180.26L403.2 184.68L403.2 187.34L404.09 191.76L405.86 194.42L408.51 195.3L410.28 195.3L412.94 194.42L414.71 191.76L415.59 187.34L415.59 184.68L414.71 180.26L412.94 177.6L410.28 176.72L408.51 176.72M408.51 176.72L406.75 177.6L405.86 178.49L404.97 180.26L404.09 184.68L404.09 187.34L404.97 191.76L405.86 193.53L406.75 194.42L408.51 195.3M410.28 195.3L412.05 194.42L412.94 193.53L413.82 191.76L414.71 187.34L414.71 184.68L413.82 180.26L412.94 178.49L412.05 177.6L410.28 176.72" stroke="#00ff00"/>
<path d="M324.44 216.17L338.6 224.13L324.44 232.1M364.26 213.51L361.61 214.4L359.84 217.06L358.95 221.48L358.95 224.13L359.84 228.56L361.61 231.22L364.26 232.1L366.03 232.1L368.69 231.22L370.46 228.56L371.34 224.13L371.34 221.48L370.46 217.06L368.69 214.4L366.03 213.51L364.26 213.51M364.26 213.51L362.5 214.4L361.61 215.28L360.72 217.06L359.84 221.48L359.84 224.13L360.72 228.56L361.61 230.33L362.5 231.22L364.26 232.1M366.03 232.1L367.81 231.22L368.69 230.33L369.57 228.56L370.46 224.13L370.46 221.48L369.57 217.06L368.69 215.28L367.81 214.4L366.03 213.51M378.42 230.33L377.54 231.22L378.42 232.1L379.31 231.22L378.42 230.33M386.39 217.06L387.27 217.94L386.39 218.82L385.5 217.94L385.5 217.06L386.39 215.28L387.27 214.4L389.93 213.51L393.47 213.51L396.12 214.4L397.01 215.28L397.89 217.06L397.89 218.82L397.01 220.59L394.36 222.37L389.93 224.13L388.16 225.02L386.39 226.79L385.5 229.44L385.5 232.1M393.47 213.51L395.24 214.4L396.12 215.28L397.01 217.06L397.01 218.82L396.12 220.59L393.47 222.37L389.93 224.13M385.5 230.33L386.39 229.44L388.16 229.44L392.58 231.22L395.24 231.22L397.01 230.33L397.89 229.44M388.16 229.44L392.58 232.1L396.12 232.1L397.01 231.22L397.89 229.44L397.89 227.67M404.97 213.51L403.2 222.37M403.2 222.37L404.97 220.59L407.63 219.71L410.28 219.71L412.94 220.59L414.71 222.37L415.59 225.02L415.59 226.79L414.71 229.44L412.94 231.22L410.28 232.1L407.63 232.1L404.97 231.22L404.09 230.33L403.2 228.56L403.2 227.67L404.09 226.79L404.97 227.67L404.09 228.56M410.28 219.71L412.05 220.59L413.82 222.37L414.71 225.02L414.71 226.79L413.82 229.44L412.05 231.22L410.28 232.1M404.97 213.51L413.82 213.51M404.97 214.4L409.4 214.4L413.82 213.51" stroke="#0000ff"/>
<path d="M324.44 252.97L338.6 260.94L324.44 268.9M364.26 250.31L361.61 251.2L359.84 253.85L358.95 258.28L358.95 260.94L359.84 265.36L361.61 268.01L364.26 268.9L366.03 268.9L368.69 268.01L370.46 265.36L371.34 260.94L371.34 258.28L370.46 253.85L368.69 251.2L366.03 250.31L364.26 250.31M364.26 250.31L362.5 251.2L361.61 252.08L360.72 253.85L359.84 258.28L359.84 260.94L360.72 265.36L361.61 267.13L362.5 268.01L364.26 268.9M366.03 268.9L367.81 268.01L368.69 267.13L369.57 265.36L370.46 260.94L370.46 258.28L369.57 253.85L368.69 252.08L367.81 251.2L366.03 250.31M378.42 267.13L377.54 268.01L378.42 268.9L379.31 268.01L378.42 267.13M386.39 253.85L387.27 254.74L386.39 255.62L385.5 254.74L385.5 253.85L386.39 252.08L387.27 251.2L389.93 250.31L393.47 250.31L396.12 251.2L397.01 252.97L397.01 255.62L396.12 257.39L393.47 258.28L390.81 258.28M393.47 250.31L395.24 251.2L396.12 252.97L396.12 255.62L395.24 257.39L393.47 258.28M393.47 258.28L395.24 259.16L397.01 260.94L397.89 262.7L397.89 265.36L397.01 267.13L396.12 268.01L393.47 268.9L389.93 268.9L387.27 268.01L386.39 267.13L385.5 265.36L385.5 264.47L386.39 263.59L387.27 264.47L386.39 265.36M396.12 260.05L397.01 262.7L397.01 265.36L396.12 267.13L395.24 268.01L393.47 268.9M408.51 250.31L405.86 251.2L404.09 253.85L403.2 258.28L403.2 260.94L404.09 265.36L405.86 268.01L408.51 268.9L410.28 268.9L412.94 268.01L414.71 265.36L415.59 260.94L415.59 258.28L414.71 253.85L412.94 251.2L410.28 250.31L408.51 250.31M408.51 250.31L406.75 251.2L405.86 252.08L404.97 253.85L404.09 258.28L404.09 260.94L404.97 265.36L405.86 267.13L406.75 268.01L408.51 268.9M410.28 268.9L412.05 268.01L412.94 267.13L413.82 265.36L414.71 260.94L414.71 258.28L413.82 253.85L412.94 252.08L412.05 251.2L410.28 250.31" stroke="#000000"/>
<path d="M324.44 289.77L338.6 297.74L324.44 305.7M364.26 287.12L361.61 288L359.84 290.65L358.95 295.08L358.95 297.74L359.84 302.16L361.61 304.81L364.26 305.7L366.03 305.7L368.69 304.81L370.46 302.16L371.34 297.74L371.34 295.08L370.46 290.65L368.69 288L366.03 287.12L364.26 287.12M364.26 287.12L362.5 288L361.61 288.88L360.72 290.65L359.84 295.08L359.84 297.74L360.72 302.16L361.61 303.93L362.5 304.81L364.26 305.7M366.03 305.7L367.81 304.81L368.69 303.93L369.57 302.16L370.46 297.74L370.46 295.08L369.57 290.65L368.69 288.88L367.81 288L366.03 287.12M378.42 303.93L377.54 304.81L378.42 305.7L379.31 304.81L378.42 303.93M386.39 290.65L387.27 291.54L386.39 292.43L385.5 291.54L385.5 290.65L386.39 288.88L387.27 288L389.93 287.12L393.47 287.12L396.12 288L397.01 289.77L397.01 292.43L396.12 294.19L393.47 295.08L390.81 295.08M393.47 287.12L395.24 288L396.12 289.77L396.12 292.43L395.24 294.19L393.47 295.08M393.47 295.08L395.24 295.96L397.01 297.74L397.89 299.5L397.89 302.16L397.01 303.93L396.12 304.81L393.47 305.7L389.93 305.7L387.27 304.81L386.39 303.93L385.5 302.16L385.5 301.27L386.39 300.39L387.27 301.27L386.39 302.16M396.12 296.85L397.01 299.5L397.01 302.16L396.12 303.93L395.24 304.81L393.47 305.7M404.97 287.12L403.2 295.96M403.2 295.96L404.97 294.19L407.63 293.31L410.28 293.31L412.94 294.19L414.71 295.96L415.59 298.62L415.59 300.39L414.71 303.05L412.94 304.81L410.28 305.7L407.63 305.7L404.97 304.81L404.09 303.93L403.2 302.16L403.2 301.27L404.09 300.39L404.97 301.27L404.09 302.16M410.28 293.31L412.05 294.19L413.82 295.96L414.71 298.62L414.71 300.39L413.82 303.05L412.05 304.81L410.28 305.7M404.97 287.12L413.82 287.12M404.97 288L409.4 288L413.82 287.12" stroke="#ff0000"/>
<path d="M324.44 326.57L338.6 334.54L324.44 342.5M364.26 323.92L361.61 324.8L359.84 327.45L358.95 331.88L358.95 334.54L359.84 338.96L361.61 341.62L364.26 342.5L366.03 342.5L368.69 341.62L370.46 338.96L371.34 334.54L371.34 331.88L370.46 327.45L368.69 324.8L366.03 323.92L364.26 323.92M364.26 323.92L362.5 324.8L361.61 325.69L360.72 327.45L359.84 331.88L359.84 334.54L360.72 338.96L361.61 340.73L362.5 341.62L364.26 342.5M366.03 342.5L367.81 341.62L368.69 340.73L369.57 338.96L370.46 334.54L370.46 331.88L369.57 327.45L368.69 325.69L367.81 324.8L366.03 323.92M378.42 340.73L377.54 341.62L378.42 342.5L379.31 341.62L378.42 340.73M393.47 325.69L393.47 342.5M394.36 323.92L394.36 342.5M394.36 323.92L384.62 337.19L398.78 337.19M390.81 342.5L397.01 342.5M408.51 323.92L405.86 324.8L404.09 327.45L403.2 331.88L403.2 334.54L404.09 338.96L405.86 341.62L408.51 342.5L410.28 342.5L412.94 341.62L414.71 338.96L415.59 334.54L415.59 331.88L414.71 327.45L412.94 324.8L410.28 323.92L408.51 323.92M408.51 323.92L406.75 324.8L405.86 325.69L404.97 327.45L404.09 331.88L404.09 334.54L404.97 338.96L405.86 340.73L406.75 341.62L408.51 342.5M410.28 342.5L412.05 341.62L412.94 340.73L413.82 338.96L414.71 334.54L414.71 331.88L413.82 327.45L412.94 325.69L412.05 324.8L410.28 323.92" stroke="#00ff00"/>
</g>
</svg>
</body></html>
